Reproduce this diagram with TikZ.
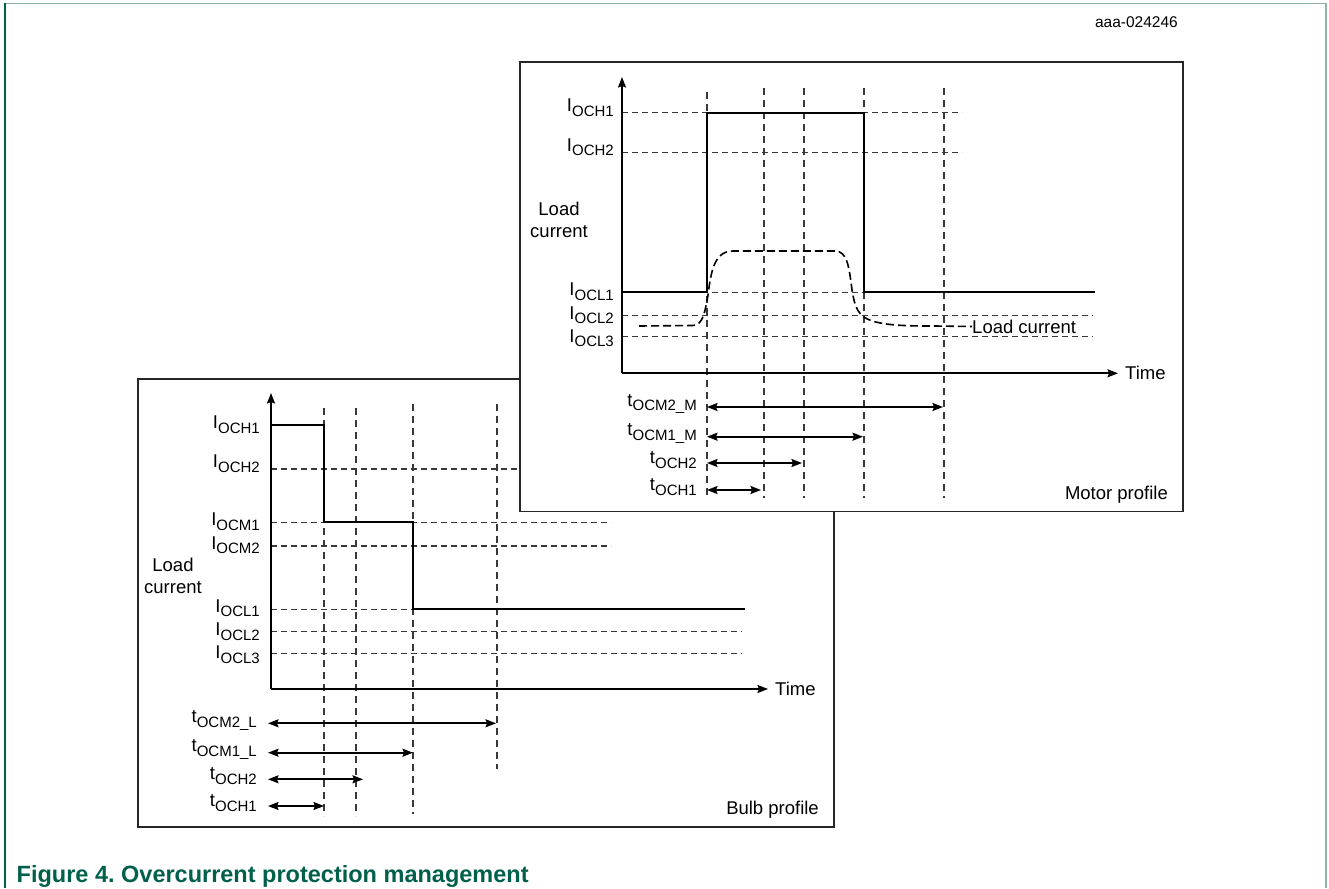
\documentclass[tikz,border=0pt]{standalone}
\usepackage{fontspec}
\setmainfont{Liberation Sans}
\usetikzlibrary{arrows.meta}
\definecolor{nxpgreen}{HTML}{00604B}
\definecolor{framegray}{HTML}{8FB3AA}
\newcommand\lsub[1]{\raisebox{-4.5pt}{\fontsize{15}{15}\selectfont #1}}
\newcommand\lfont{\fontsize{18.5}{22}\selectfont}
\tikzset{
  boxframe/.style={draw=black!85, line width=1.7pt, fill=white},
  trace/.style={draw=black, line width=2pt},
  axis/.style={draw=black, line width=1.8pt, -{Stealth[length=10.5pt,width=8pt,inset=1.5pt]}},
  hgrid/.style={draw=black!78, line width=1.25pt, dash pattern=on 6pt off 4pt},
  vgrid/.style={draw=black!78, line width=1.25pt, dash pattern=on 7pt off 5pt},
  span/.style={draw=black, line width=1.7pt, {Stealth[length=10.5pt,width=8pt,inset=1.5pt]}-{Stealth[length=10.5pt,width=8pt,inset=1.5pt]}},
  lab/.style={anchor=east, inner sep=0pt, font=\lfont},
  txt/.style={inner sep=0pt, font=\lfont},
  curve/.style={draw=black, line width=1.6pt, dash pattern=on 8pt off 4pt},
}
\begin{document}
\begin{tikzpicture}[x=1pt,y=-1pt]
\useasboundingbox (0,0) rectangle (1329,888);
% outer frame
\draw[framegray, line width=1.2pt] (4,3.5) -- (1326,3.5);
\draw[framegray, line width=1.5pt] (1326,3) -- (1326,888);
\draw[nxpgreen, line width=2pt] (4.5,3) -- (4.5,888);
\node[inner sep=0pt, anchor=east, font=\fontsize{15.5}{17}\selectfont] (docid) at (1178,22.5) {aaa-024246};

% ================= Bulb profile =================
\draw[boxframe] (138,379) rectangle (834,827);
\foreach \x/\t/\b in {324/408/816, 356/408/816, 413/404/814, 497/404/769}
  \draw[vgrid] (\x,\t) -- (\x,\b);
\draw[hgrid] (271,469) -- (530,469);
\draw[hgrid] (271,522.3) -- (611,522.3);
\draw[hgrid] (271,546) -- (611,546);
\draw[hgrid] (271,609.3) -- (742,609.3);
\draw[hgrid] (271,631.7) -- (742,631.7);
\draw[hgrid] (271,653.3) -- (742,653.3);
\coordinate (bO) at (271,689);
\coordinate (bY) at (271,393);
\coordinate (bX) at (768,689);
\draw[axis] (bO) -- (bY);
\draw[axis] (bO) -- (bX);
\node[txt, anchor=west] (btime) at (775,689) {Time};
\draw[trace] (271,425) -- (324,425) -- (324,522.3) -- (413,522.3) -- (413,609.3) -- (745,609.3);
\node[lab] (bl1) at (260,424.7) {I\lsub{OCH1}};
\node[lab] (bl2) at (260,463.5) {I\lsub{OCH2}};
\node[lab] (bl3) at (260,521.7) {I\lsub{OCM1}};
\node[lab] (bl4) at (260,545) {I\lsub{OCM2}};
\node[lab] (bl5) at (260,608) {I\lsub{OCL1}};
\node[lab] (bl6) at (260,631.7) {I\lsub{OCL2}};
\node[lab] (bl7) at (260,654.5) {I\lsub{OCL3}};
\node[txt, align=center] (bload) at (173,576) {Load\\current};
\coordinate (ba1) at (268,723.3); \coordinate (bb1) at (496,723.3);
\coordinate (ba2) at (268,752.7); \coordinate (bb2) at (413,752.7);
\coordinate (ba3) at (268,779.3); \coordinate (bb3) at (363,779.3);
\coordinate (ba4) at (268,806);   \coordinate (bb4) at (324,806);
\draw[span] (ba1) -- (bb1);
\draw[span] (ba2) -- (bb2);
\draw[span] (ba3) -- (bb3);
\draw[span] (ba4) -- (bb4);
\node[lab] (bt1) at (257,720.3) {t\lsub{OCM2\_L}};
\node[lab] (bt2) at (257,749.7) {t\lsub{OCM1\_L}};
\node[lab] (bt3) at (257,776.3) {t\lsub{OCH2}};
\node[lab] (bt4) at (257,803) {t\lsub{OCH1}};
\node[txt, anchor=east] (bprof) at (819,810) {Bulb profile};

% ================= Motor profile =================
\draw[boxframe] (520,62) rectangle (1183,511.5);
\foreach \x/\t in {707/92, 764/88, 804/88, 864/88, 944/88}
  \draw[vgrid] (\x,\t) -- (\x,498);
\draw[hgrid] (622,112.7) -- (962,112.7);
\draw[hgrid] (622,152.7) -- (962,152.7);
\draw[hgrid] (622,292.3) -- (1095,292.3);
\draw[hgrid] (622,315.7) -- (1093,315.7);
\draw[hgrid] (622,336.7) -- (1093,336.7);
\coordinate (mO) at (622,373.3);
\coordinate (mY) at (622,77);
\coordinate (mX) at (1118,373.3);
\draw[axis] (mO) -- (mY);
\draw[axis] (mO) -- (mX);
\node[txt, anchor=west] (mtime) at (1125,373.3) {Time};
\draw[trace] (622,292.3) -- (707,292.3) -- (707,112.7) -- (864,112.7) -- (864,292.3) -- (1095,292.3);
\node[txt, anchor=west] (mload2) at (972,326.5) {Load current};
\draw[curve] (639,326) -- (693,325.5)
  .. controls (703,325) and (705,312) .. (708,295)
  .. controls (711,272) and (714,251) .. (733,251)
  -- (835,251)
  .. controls (847,251) and (849,266) .. (852,290)
  .. controls (855,308) and (858,316) .. (872,321)
  .. controls (888,325.5) and (905,326) .. (935,326)
  -- (mload2.west);
\node[lab] (ml1) at (614,107.5) {I\lsub{OCH1}};
\node[lab] (ml2) at (614,147) {I\lsub{OCH2}};
\node[lab] (ml3) at (614,291.7) {I\lsub{OCL1}};
\node[lab] (ml4) at (614,315) {I\lsub{OCL2}};
\node[lab] (ml5) at (614,338) {I\lsub{OCL3}};
\node[txt, align=center] (mload) at (559,220) {Load\\current};
\coordinate (ma1) at (707,407);   \coordinate (mb1) at (943,407);
\coordinate (ma2) at (707,436.7); \coordinate (mb2) at (863,436.7);
\coordinate (ma3) at (707,463);   \coordinate (mb3) at (802,463);
\coordinate (ma4) at (707,490);   \coordinate (mb4) at (761,490);
\draw[span] (ma1) -- (mb1);
\draw[span] (ma2) -- (mb2);
\draw[span] (ma3) -- (mb3);
\draw[span] (ma4) -- (mb4);
\node[lab] (mt1) at (697,404) {t\lsub{OCM2\_M}};
\node[lab] (mt2) at (697,433.7) {t\lsub{OCM1\_M}};
\node[lab] (mt3) at (697,460) {t\lsub{OCH2}};
\node[lab] (mt4) at (697,487) {t\lsub{OCH1}};
\node[txt, anchor=east] (mprof) at (1168,495) {Motor profile};

\node[inner sep=0pt, anchor=base west, font=\bfseries\fontsize{23.5}{26}\selectfont, text=nxpgreen] (cap) at (16.5,882) {Figure 4.\ Overcurrent protection management};
\end{tikzpicture}
\end{document}
